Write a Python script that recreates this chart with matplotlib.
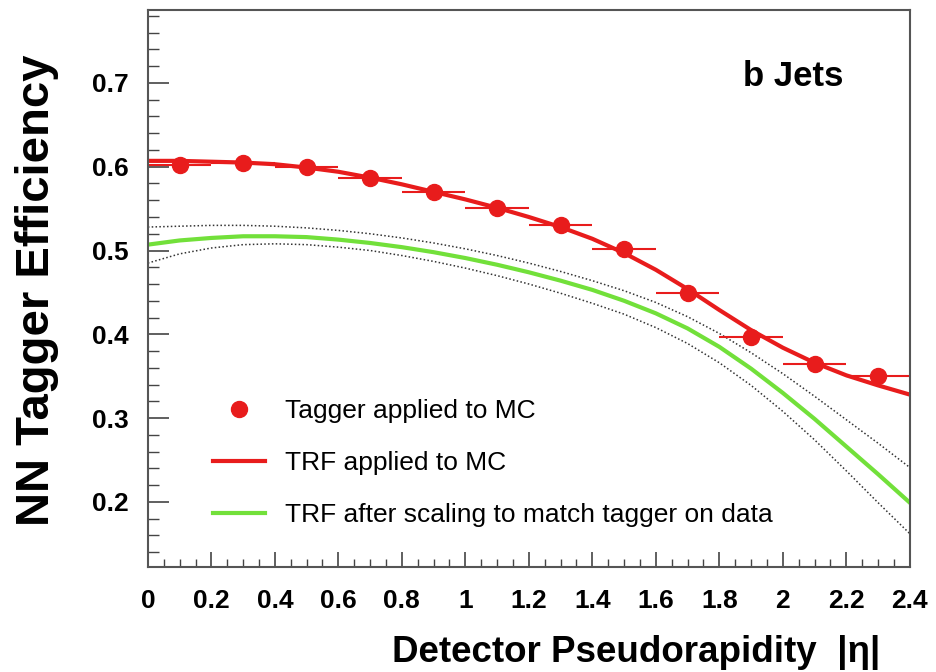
import matplotlib
matplotlib.use("Agg")
import matplotlib.pyplot as plt
from matplotlib.ticker import MultipleLocator

plt.rcParams['font.family'] = ['Liberation Sans', 'DejaVu Sans']

# tagger applied to MC (bin centres, half width 0.1)
eta_bins = [0.1, 0.3, 0.5, 0.7, 0.9, 1.1, 1.3, 1.5, 1.7, 1.9, 2.1, 2.3]
tag_eff = [0.602, 0.605, 0.600, 0.587, 0.570, 0.551, 0.531, 0.502, 0.449, 0.397, 0.364, 0.350]
bin_half = [0.1] * len(eta_bins)

# TRF curves
eta_curve = [0.0, 0.1, 0.2, 0.3, 0.4, 0.5, 0.6, 0.7, 0.8, 0.9, 1.0, 1.1, 1.2,
             1.3, 1.4, 1.5, 1.6, 1.7, 1.8, 1.9, 2.0, 2.1, 2.2, 2.3, 2.4]
trf_mc = [0.607, 0.607, 0.606, 0.605, 0.603, 0.599, 0.594, 0.587, 0.579, 0.570,
          0.561, 0.551, 0.540, 0.528, 0.514, 0.497, 0.477, 0.454, 0.429, 0.405,
          0.384, 0.366, 0.351, 0.339, 0.328]
trf_scaled = [0.507, 0.512, 0.515, 0.517, 0.517, 0.516, 0.513, 0.509, 0.504, 0.498,
              0.491, 0.483, 0.474, 0.464, 0.453, 0.440, 0.425, 0.407, 0.385, 0.359,
              0.330, 0.299, 0.266, 0.233, 0.199]
scaled_up = [0.528, 0.529, 0.530, 0.530, 0.529, 0.527, 0.524, 0.520, 0.515, 0.509,
             0.502, 0.494, 0.485, 0.475, 0.464, 0.452, 0.438, 0.421, 0.401, 0.378,
             0.353, 0.326, 0.298, 0.270, 0.241]
scaled_down = [0.485, 0.496, 0.503, 0.507, 0.508, 0.507, 0.504, 0.500, 0.494, 0.487,
               0.479, 0.470, 0.460, 0.449, 0.437, 0.424, 0.408, 0.389, 0.366, 0.339,
               0.308, 0.274, 0.237, 0.199, 0.162]

red = '#e81c1c'
green = '#72e03a'

fig = plt.figure(figsize=(9.36, 6.72), dpi=100)
ax = fig.add_axes([0.158, 0.156, 0.814, 0.829])

ax.plot(eta_curve, scaled_up, color='#333333', lw=1.1, ls=(0, (1, 1.5)))
ax.plot(eta_curve, scaled_down, color='#333333', lw=1.1, ls=(0, (1, 1.5)))
green_line, = ax.plot(eta_curve, trf_scaled, color=green, lw=3)
red_line, = ax.plot(eta_curve, trf_mc, color=red, lw=3)
ax.errorbar(eta_bins, tag_eff, xerr=bin_half, fmt='o', color=red, ms=11.5,
            elinewidth=1.5, capsize=0)
dot_proxy, = ax.plot([], [], 'o', color=red, ms=11.5)

ax.set_xlim(0, 2.4)
ax.set_ylim(0.122, 0.787)
ax.xaxis.set_major_locator(MultipleLocator(0.2))
ax.xaxis.set_minor_locator(MultipleLocator(0.05))
ax.yaxis.set_major_locator(MultipleLocator(0.1))
ax.yaxis.set_minor_locator(MultipleLocator(0.02))
ax.set_xticks([0, 0.2, 0.4, 0.6, 0.8, 1, 1.2, 1.4, 1.6, 1.8, 2, 2.2, 2.4])
ax.set_xticklabels(['0', '0.2', '0.4', '0.6', '0.8', '1', '1.2', '1.4', '1.6', '1.8', '2', '2.2', '2.4'])
ax.set_yticks([0.2, 0.3, 0.4, 0.5, 0.6, 0.7])
ax.set_yticklabels(['0.2', '0.3', '0.4', '0.5', '0.6', '0.7'])

ax.tick_params(axis='both', which='both', direction='in', color='#444444',
               top=False, right=False, labelsize=19)
ax.tick_params(axis='x', which='major', length=11, width=1.2, pad=16)
ax.tick_params(axis='x', which='minor', length=6, width=1.0)
ax.tick_params(axis='y', which='major', length=15, width=1.2, pad=14)
ax.tick_params(axis='y', which='minor', length=8, width=1.0)
for lab in ax.get_xticklabels() + ax.get_yticklabels():
    lab.set_fontweight('bold')
for side in ['left', 'bottom', 'top', 'right']:
    ax.spines[side].set_color('#555555')
    ax.spines[side].set_linewidth(1.5)

ax.set_xlabel('Detector Pseudorapidity  |η|', fontsize=26.5, fontweight='bold',
              ha='right', va='center')
ax.xaxis.set_label_coords(0.961, -0.153)
ax.set_ylabel('NN Tagger Efficiency', fontsize=34, fontweight='bold', va='center')
ax.yaxis.set_label_coords(-0.146, 0.497)

ax.text(0.781, 0.880, 'b Jets', transform=ax.transAxes, fontsize=25,
        fontweight='bold', va='center', ha='left')

ax.legend([dot_proxy, red_line, green_line],
          ['Tagger applied to MC', 'TRF applied to MC', 'TRF after scaling to match tagger on data'],
          loc='upper left', bbox_to_anchor=(0.085, 0.302), frameon=False,
          fontsize=19, handlelength=2.0, handletextpad=0.75, labelspacing=1.07,
          borderpad=0, borderaxespad=0)

fig.savefig('out.png', dpi=100)
